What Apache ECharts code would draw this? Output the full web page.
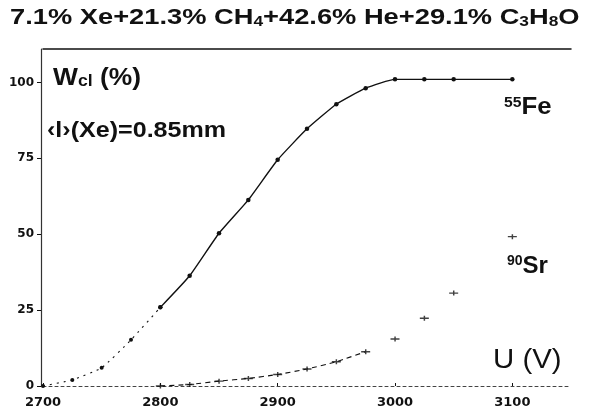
<!DOCTYPE html>
<html>
<head>
<meta charset="utf-8">
<script src="https://cdn.jsdelivr.net/npm/echarts@6/dist/echarts.min.js"></script>
<style>
  html, body { margin: 0; padding: 0; background: #fff; }
  #chart { width: 591px; height: 418px; }
</style>
</head>
<body>
<div id="chart"></div>
<script>
// Cluster efficiency W_cl versus anode voltage U
const xTicks = [2700, 2800, 2900, 3000, 3100];
const yTicks = [0, 25, 50, 75, 100];

// 55Fe source
const feVoltage = [2700, 2725, 2750, 2775, 2800, 2825, 2850, 2875, 2900, 2925, 2950, 2975, 3000, 3025, 3050, 3100];
const feValue   = [0, 2.0, 6.0, 15.2, 25.9, 36.3, 50.3, 61.3, 74.5, 84.7, 92.8, 98.1, 101, 101, 101, 101];

// 90Sr source
const srVoltage = [2800, 2825, 2850, 2875, 2900, 2925, 2950, 2975, 3000, 3025, 3050, 3100];
const srValue   = [0, 0.5, 1.6, 2.5, 3.8, 5.6, 8.0, 11.3, 15.5, 22.3, 30.6, 49.2];

const pairs = (xs, ys) => xs.map((x, i) => [x, ys[i]]);
const fe = pairs(feVoltage, feValue);
const sr = pairs(srVoltage, srValue);
const feLow = fe.slice(0, 5);      // dotted start of the curve
const feHigh = fe.slice(4);        // solid part
const srTrend = sr.slice(0, 8);    // dashed guide through the lower Sr points

const ink = '#111';
const plus = 'path://M0,1.6h8v1.3h-8z M3.4,0h1.3v4.5h-1.3z';

const chart = echarts.init(document.getElementById('chart'), null, { renderer: 'canvas' });
chart.setOption({
  animation: false,
  backgroundColor: '#fff',
  grid: { left: 43, right: 20, top: 49, bottom: 32 },
  xAxis: [{
    type: 'value', min: 2700, max: 3150,
    axisLine: { show: true, lineStyle: { color: '#444', width: 1, type: [3, 3] } },
    axisTick: { show: true, inside: true, length: 3, customValues: xTicks, lineStyle: { color: ink } },
    axisLabel: {
      customValues: xTicks, margin: 10, color: ink, fontFamily: 'DejaVu Sans', fontWeight: 'bold', fontSize: 13,
      formatter: v => String(v)
    },
    splitLine: { show: false }
  }, {
    type: 'value', min: 2700, max: 3150, position: 'top',
    axisLine: { show: true, onZero: false, lineStyle: { color: ink, width: 1.5 } },
    axisTick: { show: false }, axisLabel: { show: false }, splitLine: { show: false }
  }],
  yAxis: {
    type: 'value', min: 0, max: 111, offset: 2,
    axisLine: { show: true, onZero: false, lineStyle: { color: '#333', width: 1.2 } },
    axisTick: { show: true, length: 4, customValues: yTicks, lineStyle: { color: ink } },
    axisLabel: { customValues: yTicks, margin: 7, color: ink, fontFamily: 'DejaVu Sans', fontWeight: 'bold', fontSize: 12 },
    splitLine: { show: false }
  },
  series: [
    {
      name: 'Fe low', type: 'line', data: feLow, smooth: 0.15,
      symbol: 'circle', symbolSize: 4, itemStyle: { color: ink },
      lineStyle: { color: ink, width: 1.1, type: [2, 5] }
    },
    {
      name: '55Fe', type: 'line', data: feHigh, smooth: 0.15,
      symbol: 'circle', symbolSize: 4.5, itemStyle: { color: ink },
      lineStyle: { color: ink, width: 1.4 }
    },
    {
      name: 'Sr trend', type: 'line', data: srTrend, smooth: 0.15, symbol: 'none',
      lineStyle: { color: ink, width: 1.1, type: [5, 4] }
    },
    {
      name: '90Sr', type: 'scatter', data: sr, symbol: plus, symbolSize: [9, 5],
      itemStyle: { color: ink }
    }
  ],
  graphic: [
    {
      type: 'text', x: 10, y: 18, scaleX: 1.24,
      style: {
        text: '7.1% Xe+21.3% CH{s|4}+42.6% He+29.1% C{s|3}H{s|8}O',
        fill: ink, font: 'bold 22px "Liberation Sans"', verticalAlign: 'middle',
        rich: { s: { fontSize: 14, fontWeight: 'bold', fontFamily: 'Liberation Sans', verticalAlign: 'bottom', lineHeight: 12, fill: ink } }
      }
    },
    {
      type: 'text', x: 53, y: 78, scaleX: 1.1,
      style: {
        text: 'W{s|cl} (%)', fill: ink, font: 'bold 24px "Liberation Sans"', verticalAlign: 'middle',
        rich: { s: { fontSize: 16, fontWeight: 'bold', fontFamily: 'Liberation Sans', verticalAlign: 'bottom', lineHeight: 12, fill: ink } }
      }
    },
    {
      type: 'text', x: 47, y: 131, scaleX: 1.14,
      style: { text: '‹l›(Xe)=0.85mm', fill: ink, font: 'bold 22px "Liberation Sans"', verticalAlign: 'middle' }
    },
    {
      type: 'text', x: 504, y: 108, scaleX: 1.12,
      style: {
        text: '{p|55}Fe', fill: ink, font: 'bold 23px "Liberation Sans"', verticalAlign: 'middle',
        rich: { p: { fontSize: 14, fontWeight: 'bold', fontFamily: 'Liberation Sans', verticalAlign: 'top', lineHeight: 12, fill: ink } }
      }
    },
    {
      type: 'text', x: 507, y: 266,
      style: {
        text: '{p|90}Sr', fill: ink, font: 'bold 24px "Liberation Sans"', verticalAlign: 'middle',
        rich: { p: { fontSize: 14, fontWeight: 'bold', fontFamily: 'Liberation Sans', verticalAlign: 'top', lineHeight: 12, fill: ink } }
      }
    },
    {
      type: 'text', x: 493, y: 360, scaleX: 1.05,
      style: { text: 'U (V)', fill: ink, font: '28px "Liberation Sans"', verticalAlign: 'middle' }
    }
  ]
});
</script>
</body>
</html>
